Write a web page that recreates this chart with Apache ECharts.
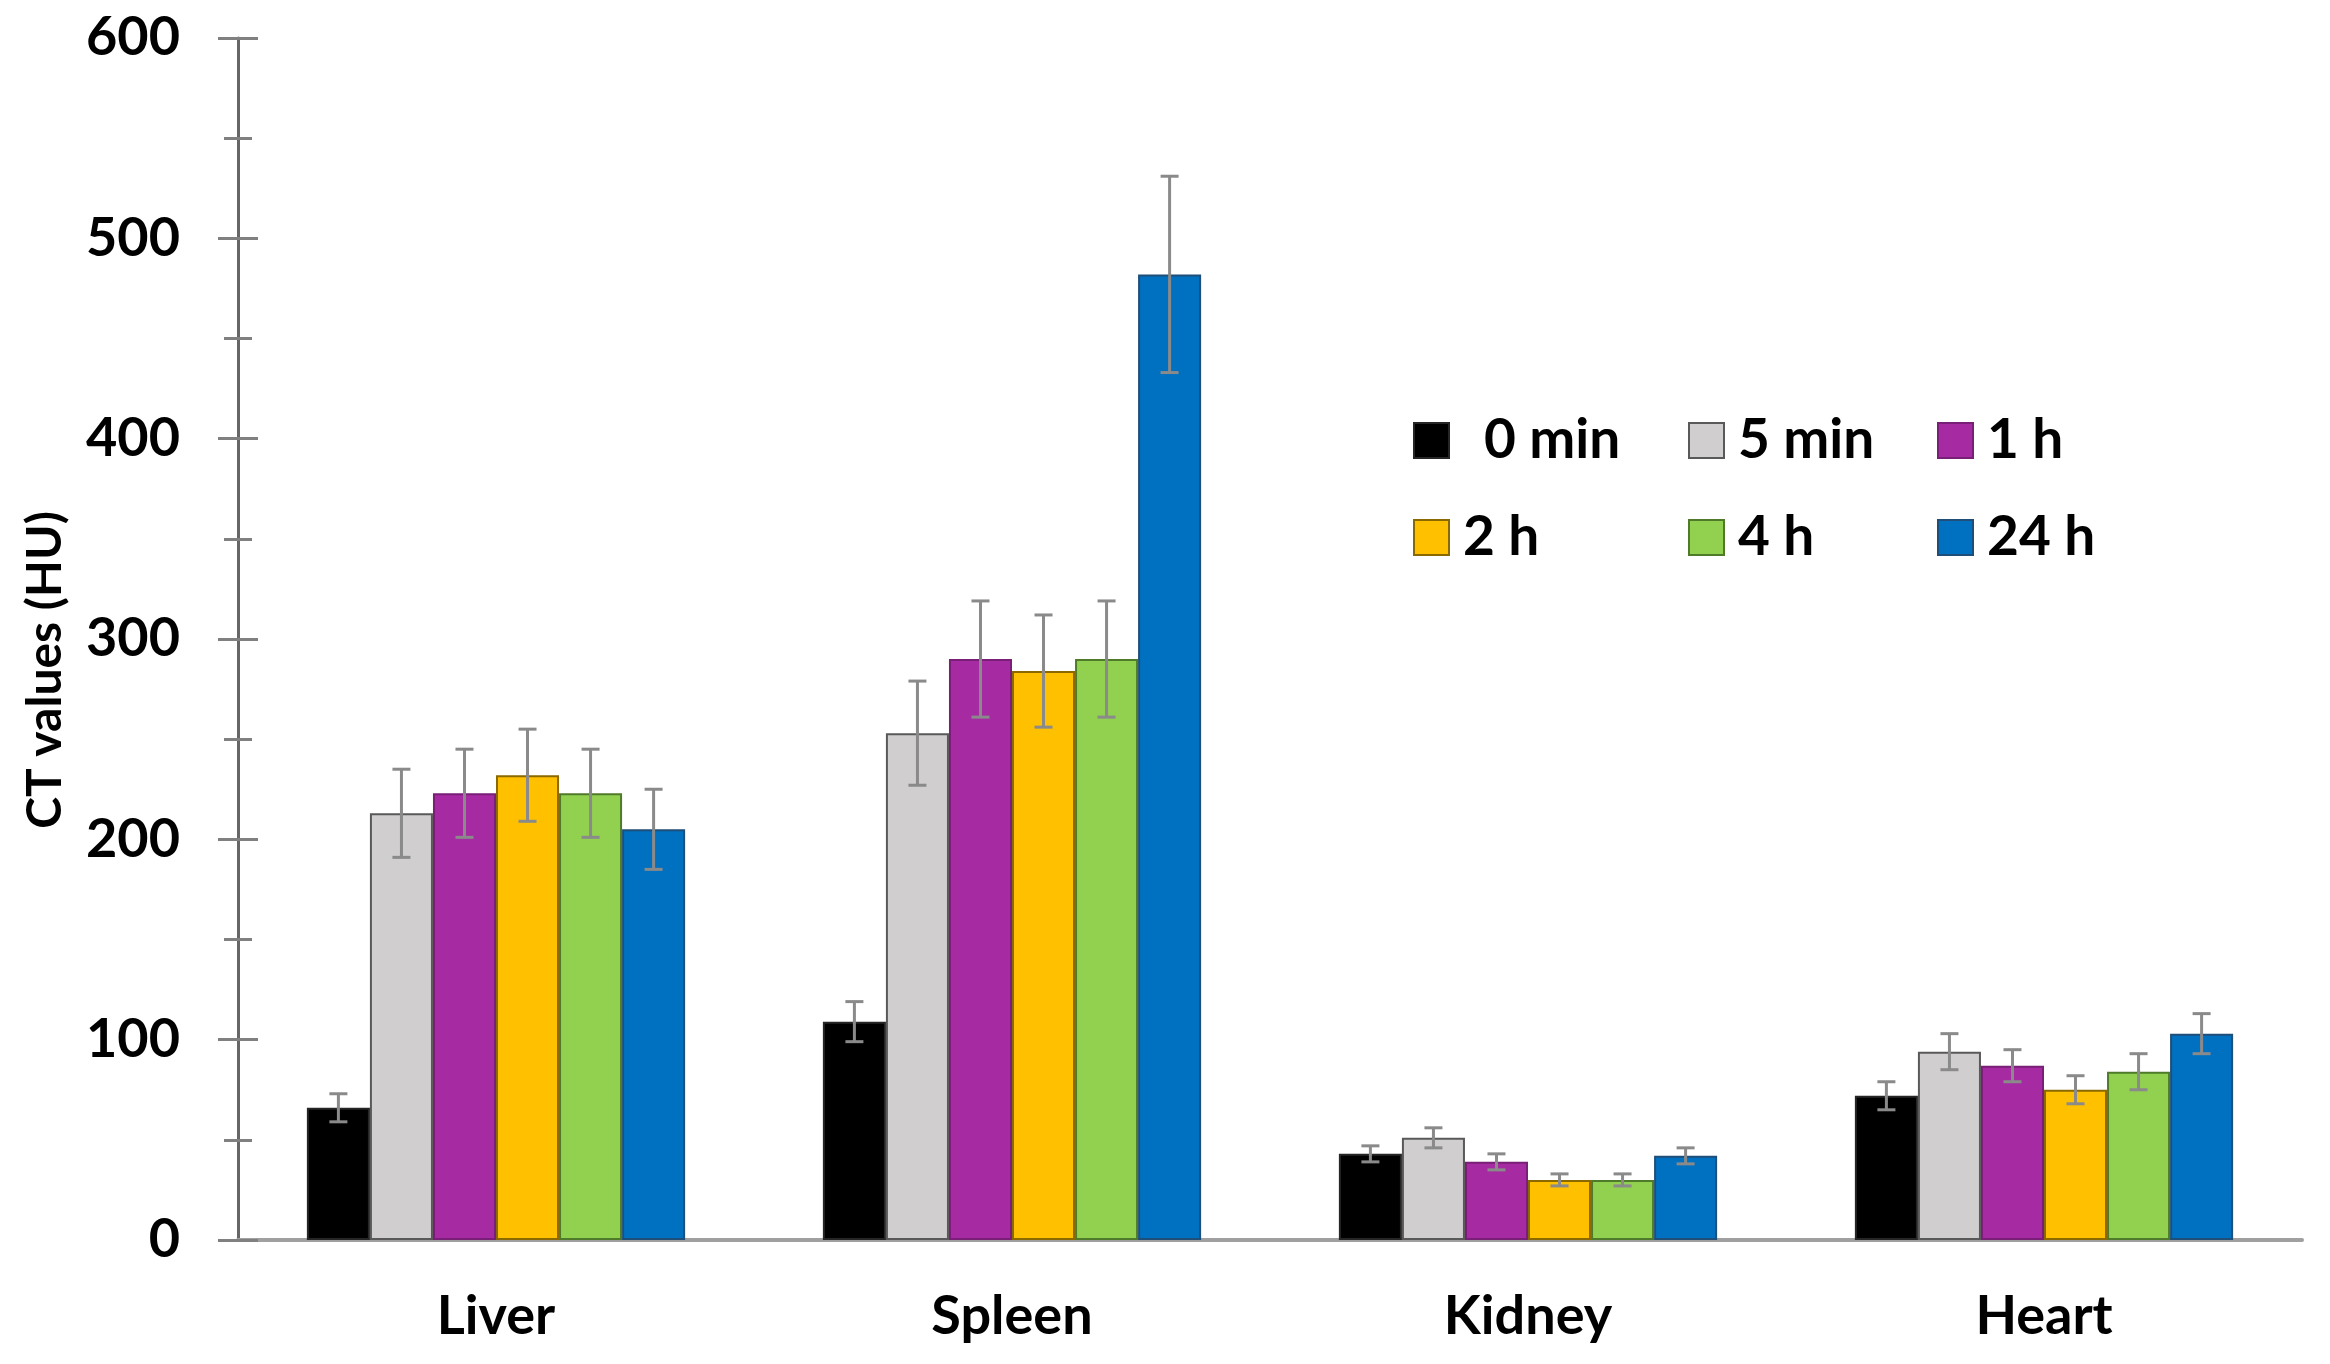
<!DOCTYPE html>
<html>
<head>
<meta charset="utf-8">
<script src="https://cdn.jsdelivr.net/npm/echarts@6/dist/echarts.min.js"></script>
<style>
html,body{margin:0;padding:0;background:#fff;}
#chart{width:2330px;height:1364px;}
</style>
</head>
<body>
<div id="chart"></div>
<script>
const categories = ['Liver', 'Spleen', 'Kidney', 'Heart'];
const seriesNames = ['0 min', '5 min', '1 h', '2 h', '4 h', '24 h'];
const colors = ['#000000', '#D0CECE', '#A62AA2', '#FFC000', '#92D050', '#0070C0'];
const borderColors = ['#262626', '#595959', '#7a1f77', '#8a6a00', '#4f7a2a', '#1f4e79'];

const v0min = [66, 109, 43, 72];
const v5min = [213, 253, 51, 94];
const v1h   = [223, 290, 39, 87];
const v2h   = [232, 284, 30, 75];
const v4h   = [223, 290, 30, 84];
const v24h  = [205, 482, 42, 103];

const e0min = [7, 10, 4, 7];
const e5min = [22, 26, 5, 9];
const e1h   = [22, 29, 4, 8];
const e2h   = [23, 28, 3, 7];
const e4h   = [22, 29, 3, 9];
const e24h  = [20, 49, 4, 10];

const yTicks = [0, 100, 200, 300, 400, 500, 600];

const values = [v0min, v5min, v1h, v2h, v4h, v24h];
const errors = [e0min, e5min, e1h, e2h, e4h, e24h];

const FONT = 'Lato';
const FS = 54;
const catGap = 0.267;

const series = seriesNames.map((n, i) => ({
  name: n,
  type: 'bar',
  data: values[i],
  barGap: '0%',
  barCategoryGap: (catGap * 100) + '%',
  itemStyle: { color: colors[i], borderColor: borderColors[i], borderWidth: 2 },
  z: 2
}));

const errData = [];
values.forEach((arr, s) => {
  arr.forEach((v, c) => {
    errData.push([c, v - errors[s][c], v + errors[s][c], s]);
  });
});

series.push({
  type: 'custom',
  name: 'err',
  data: errData,
  encode: { x: 0, y: [1, 2] },
  z: 10,
  silent: true,
  renderItem: function (params, api) {
    const c = api.value(0);
    const s = api.value(3);
    const band = api.size([1, 0])[0];
    const bw = band * (1 - catGap) / seriesNames.length;
    const cx = api.coord([c, 0])[0] + (s - (seriesNames.length - 1) / 2) * bw;
    const lo = api.coord([c, api.value(1)])[1];
    const hi = api.coord([c, api.value(2)])[1];
    const cap = 9;
    const style = { stroke: '#8a8a8a', lineWidth: 3 };
    return {
      type: 'group',
      children: [
        { type: 'line', shape: { x1: cx, y1: lo, x2: cx, y2: hi }, style: style },
        { type: 'line', shape: { x1: cx - cap, y1: hi, x2: cx + cap, y2: hi }, style: style },
        { type: 'line', shape: { x1: cx - cap, y1: lo, x2: cx + cap, y2: lo }, style: style }
      ]
    };
  }
});

const legendPos = [
  { left: 1413, cy: 441, pad: 30 },
  { left: 1688, cy: 441, pad: 9 },
  { left: 1937, cy: 441, pad: 9 },
  { left: 1413, cy: 538, pad: 9 },
  { left: 1688, cy: 538, pad: 9 },
  { left: 1937, cy: 538, pad: 9 }
];
const LFS = 55;
const legends = seriesNames.map((n, i) => ({
  data: [n],
  left: legendPos[i].left,
  top: legendPos[i].cy - 28,
  padding: 0,
  orient: 'horizontal',
  icon: 'rect',
  itemWidth: 35,
  itemHeight: 35,
  selectedMode: false,
  textStyle: {
    fontFamily: FONT, fontWeight: 'bold', fontSize: LFS, color: '#000',
    padding: [0, 0, 0, legendPos[i].pad]
  }
}));

const yAxisBase = {
  type: 'value',
  min: 0, max: 600, interval: 100,
  splitLine: { show: false }
};

const option = {
  animation: false,
  backgroundColor: '#ffffff',
  grid: { left: 238, right: 28, top: 38, bottom: 124, containLabel: false },
  legend: legends,
  xAxis: {
    type: 'category',
    data: categories,
    axisLine: { show: true, lineStyle: { color: '#a0a0a0', width: 4 } },
    axisTick: { show: false },
    axisLabel: { fontFamily: FONT, fontWeight: 'bold', fontSize: FS, color: '#000', margin: 50 }
  },
  yAxis: [
    Object.assign({}, yAxisBase, {
      name: 'CT values (HU)',
      nameLocation: 'middle',
      nameGap: 168,
      nameTextStyle: { fontFamily: FONT, fontWeight: 'bold', fontSize: 48, color: '#000', padding: [0, 62, 0, 0] },
      axisLine: { show: true, lineStyle: { color: '#666666', width: 3 } },
      axisTick: { show: true, length: 20, lineStyle: { color: '#808080', width: 3 } },
      minorTick: { show: true, splitNumber: 2, length: 14, lineStyle: { color: '#808080', width: 3 } },
      axisLabel: {
        fontFamily: FONT, fontWeight: 'bold', fontSize: FS, color: '#000', margin: 58,
        formatter: function (v) { return yTicks.indexOf(v) >= 0 ? String(v) : ''; }
      }
    }),
    Object.assign({}, yAxisBase, {
      position: 'left',
      axisLine: { show: false },
      axisTick: { show: true, inside: true, length: 20, lineStyle: { color: '#808080', width: 3 } },
      minorTick: { show: true, splitNumber: 2, length: 14, lineStyle: { color: '#808080', width: 3 } },
      axisLabel: { show: false }
    })
  ],
  series: series
};

const chart = echarts.init(document.getElementById('chart'), null, { renderer: 'canvas' });
chart.setOption(option);
</script>
</body>
</html>
